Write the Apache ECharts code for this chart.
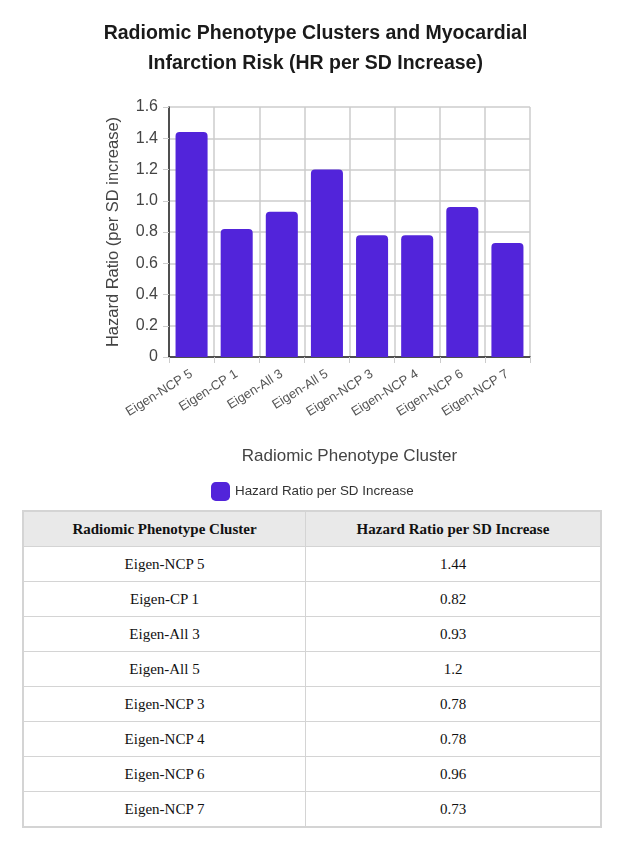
<!DOCTYPE html>
<html>
<head>
<meta charset="utf-8">
<script src="https://cdn.jsdelivr.net/npm/echarts@6/dist/echarts.min.js"></script>
<style>
  html, body { margin: 0; padding: 0; background: #fff; }
  #chart { width: 631px; height: 505px; }
  table { border-collapse: collapse; margin-left: 22px; margin-top: 5px; width: 580px; font-family: "Liberation Serif", "Times New Roman", serif; font-size: 15px; color: #111; border: 2px solid #d4d4d4; }
  th, td { border: 1px solid #d4d4d4; text-align: center; height: 34px; padding: 0; }
  th { background: #e9e9e9; font-weight: bold; }
  th:first-child, td:first-child { width: 281px; }
</style>
</head>
<body>
<div id="chart"></div>
<table id="tbl"></table>
<script>
const categories = ["Eigen-NCP 5", "Eigen-CP 1", "Eigen-All 3", "Eigen-All 5", "Eigen-NCP 3", "Eigen-NCP 4", "Eigen-NCP 6", "Eigen-NCP 7"];
const hazardRatios = [1.44, 0.82, 0.93, 1.2, 0.78, 0.78, 0.96, 0.73];
const seriesName = "Hazard Ratio per SD Increase";
const tableHeaders = ["Radiomic Phenotype Cluster", "Hazard Ratio per SD Increase"];

const chart = echarts.init(document.getElementById('chart'), null, { renderer: 'canvas' });
chart.setOption({
  animation: false,
  title: {
    text: "Radiomic Phenotype Clusters and Myocardial\nInfarction Risk (HR per SD Increase)",
    left: 'center', top: 14,
    textStyle: { fontFamily: 'Liberation Sans, Arial, sans-serif', fontSize: 19.5, fontWeight: 'bold', color: '#1a1a1a', lineHeight: 30 }
  },
  legend: {
    data: [seriesName], top: 477, left: 206,
    icon: 'roundRect', itemWidth: 19, itemHeight: 19, itemGap: 8,
    textStyle: { fontFamily: 'Liberation Sans, Arial, sans-serif', fontSize: 13.4, color: '#333' }
  },
  grid: { left: 169, right: 101, top: 107, bottom: 148 },
  xAxis: {
    type: 'category', data: categories,
    name: 'Radiomic Phenotype Cluster', nameLocation: 'middle', nameGap: 91,
    nameTextStyle: { fontFamily: 'Liberation Sans, Arial, sans-serif', fontSize: 17, color: '#444' },
    axisLine: { lineStyle: { color: '#222', width: 1.5 } },
    axisTick: { show: true, length: 6, lineStyle: { color: '#ccc' } },
    splitLine: { show: true, lineStyle: { color: '#ccc', width: 1.5 } },
    axisLabel: { rotate: 32, fontFamily: 'Liberation Sans, Arial, sans-serif', fontSize: 13, color: '#555', margin: 16, interval: 0 }
  },
  yAxis: {
    type: 'value', min: 0, max: 1.6, interval: 0.2,
    name: 'Hazard Ratio (per SD increase)', nameLocation: 'middle', nameGap: 47,
    nameTextStyle: { fontFamily: 'Liberation Sans, Arial, sans-serif', fontSize: 16.5, color: '#444' },
    axisLine: { show: true, lineStyle: { color: '#222', width: 1.5 } },
    axisTick: { show: true, length: 6, lineStyle: { color: '#ccc' } },
    splitLine: { show: true, lineStyle: { color: '#ccc', width: 1.5 } },
    axisLabel: {
      fontFamily: 'Liberation Sans, Arial, sans-serif', fontSize: 16, color: '#444', margin: 11,
      formatter: v => v === 0 ? '0' : v.toFixed(1)
    }
  },
  series: [{
    name: seriesName, type: 'bar', data: hazardRatios, barWidth: '71%',
    itemStyle: { color: '#5224da', borderRadius: [4, 4, 0, 0] }
  }]
});

const tbl = document.getElementById('tbl');
let html = '<tr>' + tableHeaders.map(h => '<th>' + h + '</th>').join('') + '</tr>';
categories.forEach((c, i) => { html += '<tr><td>' + c + '</td><td>' + hazardRatios[i] + '</td></tr>'; });
tbl.innerHTML = html;
</script>
</body>
</html>
